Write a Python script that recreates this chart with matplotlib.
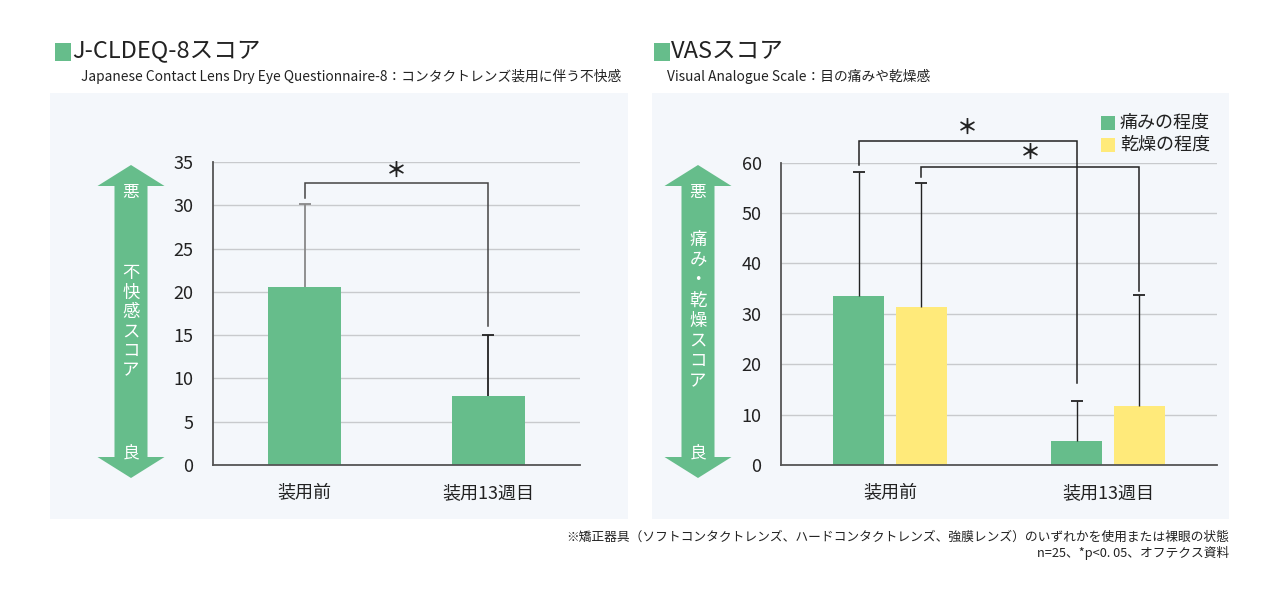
import matplotlib
matplotlib.use("Agg")
import matplotlib.pyplot as plt
from matplotlib.patches import Polygon, Rectangle
import numpy as np

plt.rcParams['font.family'] = ['Noto Sans CJK JP', 'DejaVu Sans']

# ---------------- data ----------------
categories = ['装用前', '装用13週目']

cldeq_mean = [20.6, 8.0]
cldeq_sd = [9.5, 7.0]
cldeq_ticks = [0, 5, 10, 15, 20, 25, 30, 35]

vas_series = ['痛みの程度', '乾燥の程度']
vas_pain_mean = [33.5, 4.7]
vas_pain_sd = [24.7, 8.1]
vas_dry_mean = [31.3, 11.7]
vas_dry_sd = [24.7, 22.1]
vas_ticks = [0, 10, 20, 30, 40, 50, 60]

title_left = 'J-CLDEQ-8スコア'
sub_left = 'Japanese Contact Lens Dry Eye Questionnaire-8：コンタクトレンズ装用に伴う不快感'
title_right = 'VASスコア'
sub_right = 'Visual Analogue Scale：目の痛みや乾燥感'
arrow_left_label = '不快感スコア'
arrow_right_label = '痛み・乾燥スコア'
foot1 = '※矯正器具（ソフトコンタクトレンズ、ハードコンタクトレンズ、強膜レンズ）のいずれかを使用または裸眼の状態'
foot2 = 'n=25、*p<0. 05、オフテクス資料'

GREEN = '#66bd8b'
YELLOW = '#ffea7a'
PANEL = '#f4f7fb'
GRID = '#c8cacd'
SPINE = '#555555'
TXT = '#222222'

W, H = 1280, 600
fig = plt.figure(figsize=(12.8, 6), dpi=100)
fig.patch.set_facecolor('white')

def px_axes(x0, y_top, x1, y_bot, **kw):
    return fig.add_axes([x0 / W, 1 - y_bot / H, (x1 - x0) / W, (y_bot - y_top) / H], **kw)

# background layer
bg = fig.add_axes([0, 0, 1, 1], zorder=0)
bg.set_xlim(0, W); bg.set_ylim(H, 0); bg.axis('off')
bg.add_patch(Rectangle((50, 93), 578, 426, facecolor=PANEL, edgecolor='none'))
bg.add_patch(Rectangle((652, 93), 577, 426, facecolor=PANEL, edgecolor='none'))

# overlay layer
ov = fig.add_axes([0, 0, 1, 1], zorder=3)
ov.set_xlim(0, W); ov.set_ylim(H, 0); ov.axis('off')
ov.patch.set_alpha(0)

def style_axes(ax, ticks, top):
    ax.set_facecolor('none')
    ax.set_ylim(0, top)
    ax.set_xlim(-0.5, 1.5)
    ax.set_yticks(ticks)
    ax.set_yticklabels([str(t) for t in ticks], fontsize=13, color=TXT)
    ax.grid(axis='y', color=GRID, linewidth=1.0)
    ax.set_axisbelow(True)
    for s in ['top', 'right']:
        ax.spines[s].set_visible(False)
    for s in ['left', 'bottom']:
        ax.spines[s].set_color(SPINE)
        ax.spines[s].set_linewidth(1.3)
    ax.tick_params(axis='both', length=0, pad=14)
    ax.set_xticks(range(len(categories)))
    ax.set_xticklabels(categories, fontsize=13, color=TXT)
    ax.tick_params(axis='x', pad=14)

def upper_err(ax, xs, means, sds, color, lw):
    xs = np.atleast_1d(xs); means = np.atleast_1d(means); sds = np.atleast_1d(sds)
    _, caps, _ = ax.errorbar(xs, means, yerr=[np.zeros_like(sds), sds], fmt='none',
                             ecolor=color, elinewidth=lw, capsize=4, capthick=1.3, zorder=3)
    if caps:
        caps[0].set_visible(False)

def bracket(ax, x1, y1, x2, y2, ytop, color='#444444'):
    ax.plot([x1, x1, x2, x2], [y1, ytop, ytop, y2], color=color, lw=1.1,
            clip_on=False, zorder=4, solid_joinstyle='miter')

STAR = dict(ha='center', va='center', fontsize=15, color=TXT, clip_on=False,
            fontweight='bold')

# ---------------- left chart ----------------
axL = px_axes(213, 162, 580, 465, zorder=1)
style_axes(axL, cldeq_ticks, 35)
x = np.arange(len(categories))
axL.bar(x, cldeq_mean, width=0.4, color=GREEN, zorder=2)
err_colors = ['#888888', '#222222']
for i in range(len(x)):
    upper_err(axL, x[i], cldeq_mean[i], cldeq_sd[i], err_colors[i], 1.3)
bracket(axL, 0, 30.8, 1, 16.0, 32.6)
axL.text(0.5, 34.0, '＊', **STAR)

# ---------------- right chart ----------------
axR = px_axes(781, 162.7, 1217, 465, zorder=1)
style_axes(axR, vas_ticks, 60)
bw = 0.235
off = 0.143
axR.bar(x - off, vas_pain_mean, width=bw, color=GREEN, zorder=2, label=vas_series[0])
axR.bar(x + off, vas_dry_mean, width=bw, color=YELLOW, zorder=2, label=vas_series[1])
upper_err(axR, x - off, vas_pain_mean, vas_pain_sd, '#222222', 1.0)
upper_err(axR, x + off, vas_dry_mean, vas_dry_sd, '#222222', 1.0)
bracket(axR, -off, 59.5, 1 - off, 16.3, 64.3, color='#222222')
bracket(axR, off, 57.2, 1 + off, 34.5, 59.1, color='#222222')
axR.text(0.5 - off, 66.9, '＊', **STAR)
axR.text(0.5 + off, 62.1, '＊', **STAR)

# legend (manual, pixel placement)
for i, (lab, col) in enumerate(zip(vas_series, [GREEN, YELLOW])):
    yc = 123 + i * 22
    ov.add_patch(Rectangle((1101, yc - 7), 14, 14, facecolor=col, edgecolor='none'))
    ov.text(1120, yc, lab, ha='left', va='center', fontsize=13, color=TXT)

# ---------------- arrows ----------------
def updown_arrow(cx, top, bot, label, start_y, step):
    hl, sw, hw = 21, 16.5, 33.5
    pts = [(cx, top), (cx + hw, top + hl), (cx + sw, top + hl), (cx + sw, bot - hl),
           (cx + hw, bot - hl), (cx, bot), (cx - hw, bot - hl), (cx - sw, bot - hl),
           (cx - sw, top + hl), (cx - hw, top + hl)]
    ov.add_patch(Polygon(pts, closed=True, facecolor=GREEN, edgecolor='none'))
    ov.text(cx, 192, '悪', ha='center', va='center', fontsize=12, color='white')
    ov.text(cx, 453, '良', ha='center', va='center', fontsize=12, color='white')
    for k, ch in enumerate(label):
        ov.text(cx, start_y + k * step, ch, ha='center', va='center', fontsize=12.5, color='white')

updown_arrow(131, 165, 478, arrow_left_label, 273, 19.5)
updown_arrow(698, 165, 478, arrow_right_label, 240, 20.2)

# ---------------- titles ----------------
def title(x0, text, sub, sub_off, sub_size):
    ov.add_patch(Rectangle((x0, 43), 16, 18, facecolor=GREEN, edgecolor='none'))
    ov.text(x0 + 17, 52, text, ha='left', va='center', fontsize=17, color=TXT)
    ov.text(x0 + sub_off, 76, sub, ha='left', va='center', fontsize=sub_size, color=TXT)

title(55, title_left, sub_left, 26, 9.9)
title(654, title_right, sub_right, 13, 9.9)

# ---------------- footnotes ----------------
ov.text(1229, 537, foot1, ha='right', va='center', fontsize=9.2, color=TXT)
ov.text(1229, 553, foot2, ha='right', va='center', fontsize=9.2, color=TXT)

fig.savefig('out.png', dpi=100, facecolor='white')
